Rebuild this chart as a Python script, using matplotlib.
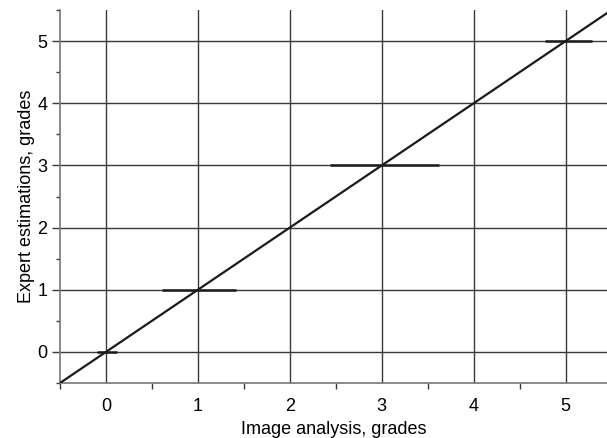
import numpy as np
import matplotlib.pyplot as plt
from matplotlib.ticker import MultipleLocator

plt.rcParams['font.family'] = ['Liberation Sans', 'DejaVu Sans']

# image analysis grade vs expert grade, with horizontal spread
img_grade = [0, 1, 3, 5]
expert_grade = [0, 1, 3, 5]
err_low = [0.10, 0.39, 0.56, 0.22]
err_high = [0.12, 0.41, 0.62, 0.29]

fit_x = [-0.5, 5.5]
fit_y = [-0.5, 5.5]

fig = plt.figure(figsize=(6.07, 4.38), dpi=100)
ax = fig.add_axes([60/607, 55/438, 1 - 60/607, 373/438])

ax.set_xlim(-0.5, 5.45)
ax.set_ylim(-0.5, 5.5)

ax.xaxis.set_major_locator(MultipleLocator(1))
ax.yaxis.set_major_locator(MultipleLocator(1))
ax.xaxis.set_minor_locator(MultipleLocator(0.5))
ax.yaxis.set_minor_locator(MultipleLocator(0.5))

ax.grid(True, which='major', color='#3a3a3a', linewidth=1.0)
ax.set_axisbelow(True)

for s in ['top', 'right']:
    ax.spines[s].set_visible(False)
for s in ['left', 'bottom']:
    ax.spines[s].set_color('#777777')
    ax.spines[s].set_linewidth(1.2)

ax.tick_params(axis='y', which='major', length=6, width=1, color='#3a3a3a', labelsize=13, pad=3)
ax.tick_params(axis='y', which='minor', length=3, width=1, color='#3a3a3a')
ax.tick_params(axis='x', which='major', length=0, labelsize=13, pad=11)
ax.tick_params(axis='x', which='minor', length=4, width=1, color='#3a3a3a')

ax.plot(fit_x, fit_y, color='#1a1a1a', linewidth=1.6, zorder=3)
ax.errorbar(img_grade, expert_grade, xerr=[err_low, err_high], fmt='none',
            ecolor='#1a1a1a', elinewidth=1.8, capsize=0, zorder=4)

ax.set_xlabel('Image analysis, grades', fontsize=13, labelpad=4)
ax.set_ylabel('Expert estimations, grades', fontsize=13, labelpad=2)

fig.savefig('out.png', dpi=100)
